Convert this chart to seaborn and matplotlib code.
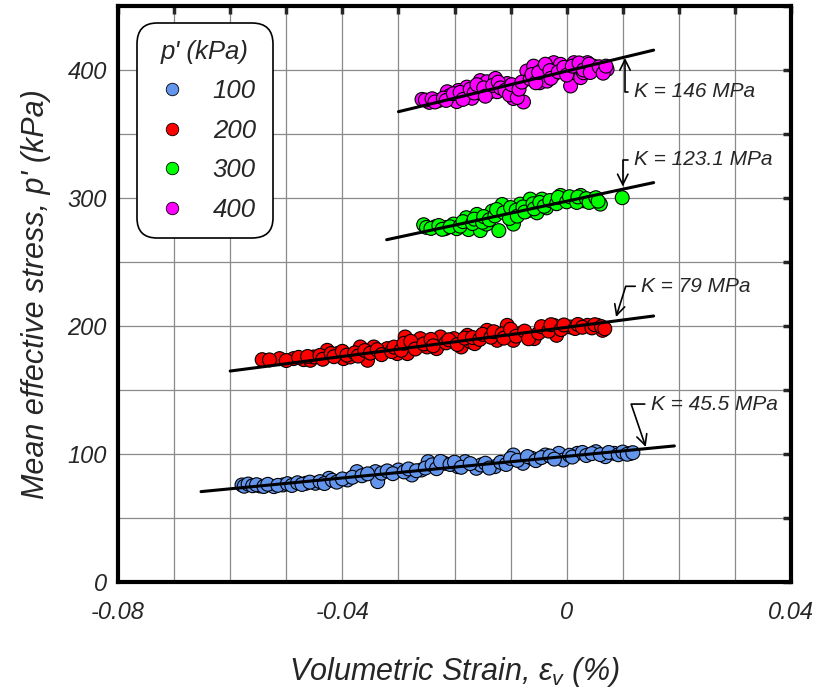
import numpy as np
import pandas as pd
import matplotlib
matplotlib.use("Agg")
import matplotlib.pyplot as plt
import seaborn as sns

# --- data ---
levels = ["100", "200", "300", "400"]
colors = ["#6495ED", "#FF0000", "#00FF00", "#FF00FF"]

strain_100 = [-0.0579, -0.0547, -0.0522, -0.0506, -0.0465, -0.0448, -0.0424, -0.0391, -0.0374,
              -0.0341, -0.0337, -0.0300, -0.0276, -0.0259, -0.0247, -0.0218, -0.0194, -0.0181,
              -0.0161, -0.0153, -0.0128, -0.0095, -0.0078, -0.0062, -0.0038, -0.0014, -0.0006,
              0.0019, 0.0052, 0.0069, 0.0085, 0.0114,
              -0.0575, -0.0568, -0.0560, -0.0553, -0.0540, -0.0533, -0.0515, -0.0498, -0.0490,
              -0.0480, -0.0472, -0.0458, -0.0440, -0.0432, -0.0418, -0.0410, -0.0400, -0.0382,
              -0.0365, -0.0355, -0.0330, -0.0320, -0.0310, -0.0290, -0.0282, -0.0268, -0.0252,
              -0.0240, -0.0232, -0.0225, -0.0208, -0.0200, -0.0188, -0.0172, -0.0145, -0.0138,
              -0.0118, -0.0108, -0.0100, -0.0088, -0.0070, -0.0055, -0.0045, -0.0030, -0.0022,
              0.0005, 0.0010, 0.0028, 0.0035, 0.0045, 0.0060, 0.0075, 0.0092, 0.0100,
              0.0108, 0.0118]
stress_100 = [75.8, 75.0, 74.5, 75.8, 77.1, 77.1, 81.0, 79.7, 86.2,
              86.2, 78.4, 87.5, 83.6, 87.5, 94.0, 92.7, 90.1, 94.0,
              88.8, 91.4, 90.1, 99.2, 92.7, 96.6, 99.2, 100.5, 95.3,
              100.5, 101.8, 97.9, 100.5, 100.5,
              74.8, 76.5, 75.2, 76.0, 74.6, 76.3, 75.5, 76.8, 75.4,
              77.5, 76.2, 78.0, 78.4, 76.9, 79.5, 78.0, 80.5, 81.8,
              83.0, 84.5, 85.0, 86.8, 84.6, 86.0, 88.3, 86.9, 89.0,
              91.5, 88.5, 94.2, 91.8, 93.6, 89.6, 92.5, 92.8, 89.0,
              93.5, 91.8, 96.5, 95.0, 98.0, 94.8, 97.2, 98.4, 96.0,
              99.0, 97.6, 101.2, 98.8, 100.3, 99.5, 101.2, 99.4, 101.5,
              99.8, 101.0]

strain_200 = [-0.0543, -0.0512, -0.0487, -0.0469, -0.0457, -0.0451, -0.0427, -0.0409, -0.0398,
              -0.0386, -0.0368, -0.0355, -0.0344, -0.0320, -0.0302, -0.0288, -0.0284, -0.0261,
              -0.0249, -0.0232, -0.0225, -0.0201, -0.0188, -0.0177, -0.0171, -0.0164, -0.0142,
              -0.0124, -0.0106, -0.0095, -0.0082, -0.0058, -0.0041, -0.0023, -0.0018, 0.0007,
              0.0037, 0.0055, 0.0064,
              -0.0530, -0.0500, -0.0478, -0.0462, -0.0440, -0.0435, -0.0420, -0.0415, -0.0400,
              -0.0392, -0.0378, -0.0372, -0.0360, -0.0350, -0.0338, -0.0330, -0.0312, -0.0308,
              -0.0295, -0.0290, -0.0278, -0.0270, -0.0255, -0.0242, -0.0238, -0.0215, -0.0210,
              -0.0195, -0.0182, -0.0168, -0.0155, -0.0150, -0.0135, -0.0130, -0.0115, -0.0112,
              -0.0100, -0.0090, -0.0075, -0.0068, -0.0050, -0.0045, -0.0032, -0.0028, -0.0010,
              -0.0005, 0.0015, 0.0020, 0.0028, 0.0045, 0.0050, 0.0062, 0.0068]
stress_200 = [173.7, 174.5, 174.5, 173.7, 173.2, 175.8, 181.0, 178.4, 174.5,
              175.8, 183.6, 173.2, 183.6, 182.3, 178.4, 191.4, 178.4, 190.1,
              183.6, 182.3, 191.4, 190.1, 183.6, 192.7, 187.5, 186.2, 196.6,
              188.8, 200.5, 188.8, 194.0, 190.1, 197.9, 200.5, 192.7, 199.2,
              200.5, 200.5, 196.6,
              173.5, 173.0, 175.5, 176.2, 177.0, 174.0, 178.5, 176.0, 180.2,
              177.2, 179.0, 176.5, 180.8, 178.8, 181.5, 177.6, 180.0, 183.5,
              181.0, 186.5, 188.0, 182.0, 186.0, 189.5, 184.5, 186.8, 189.2,
              185.5, 190.5, 191.0, 189.5, 193.5, 191.2, 195.5, 193.8, 190.5,
              197.5, 192.0, 196.0, 190.0, 194.5, 199.5, 196.0, 201.0, 197.2,
              200.8, 198.0, 201.2, 199.0, 198.5, 201.0, 199.5, 197.8]

strain_300 = [-0.0255, -0.0234, -0.0217, -0.0214, -0.0202, -0.0196, -0.0179, -0.0175, -0.0160,
              -0.0154, -0.0143, -0.0133, -0.0121, -0.0115, -0.0106, -0.0095, -0.0083, -0.0071,
              -0.0065, -0.0053, -0.0044, -0.0036, -0.0023, -0.0011, -0.0005, 0.0013, 0.0025,
              0.0030, 0.0048, 0.0060, 0.0099,
              -0.0250, -0.0242, -0.0228, -0.0222, -0.0208, -0.0190, -0.0185, -0.0168, -0.0165,
              -0.0150, -0.0148, -0.0138, -0.0128, -0.0125, -0.0112, -0.0102, -0.0100, -0.0090,
              -0.0088, -0.0078, -0.0075, -0.0060, -0.0058, -0.0048, -0.0040, -0.0030, -0.0018,
              -0.0015, 0.0000, 0.0005, 0.0018, 0.0020, 0.0035, 0.0040, 0.0052, 0.0056]
stress_300 = [279.1, 277.6, 276.0, 277.0, 279.6, 276.0, 284.6, 275.3, 287.2,
              274.5, 279.6, 289.7, 274.5, 294.9, 287.4, 279.6, 295.2, 289.7,
              299.1, 288.4, 299.1, 292.3, 297.8, 302.0, 299.1, 299.1, 302.0,
              297.8, 299.0, 295.2, 300.2,
              277.0, 276.2, 278.5, 275.5, 277.5, 278.0, 281.5, 280.0, 283.5,
              281.0, 285.5, 283.0, 286.0, 291.0, 288.5, 284.0, 292.5, 290.5,
              285.8, 293.0, 289.0, 295.5, 291.5, 296.5, 293.5, 298.0, 295.5,
              300.5, 297.0, 301.0, 296.5, 300.8, 299.5, 296.5, 300.2, 297.5]

strain_400 = [-0.0258, -0.0245, -0.0229, -0.0213, -0.0208, -0.0196, -0.0193, -0.0183, -0.0178,
              -0.0178, -0.0169, -0.0154, -0.0154, -0.0142, -0.0136, -0.0127, -0.0124, -0.0106,
              -0.0097, -0.0095, -0.0091, -0.0077, -0.0071, -0.0059, -0.0048, -0.0044, -0.0041,
              -0.0035, -0.0023, -0.0023, -0.0011, 0.0007, 0.0013, 0.0019, 0.0025, 0.0030,
              0.0037, 0.0048, 0.0054, 0.0072,
              -0.0252, -0.0240, -0.0235, -0.0220, -0.0215, -0.0202, -0.0190, -0.0185, -0.0172,
              -0.0165, -0.0160, -0.0148, -0.0145, -0.0132, -0.0122, -0.0118, -0.0110, -0.0102,
              -0.0098, -0.0088, -0.0085, -0.0080, -0.0065, -0.0062, -0.0055, -0.0050, -0.0038,
              -0.0030, -0.0028, -0.0015, -0.0005, 0.0000, 0.0010, 0.0022, 0.0030, 0.0040,
              0.0042, 0.0058, 0.0065, 0.0070]
stress_400 = [377.0, 374.7, 376.0, 383.0, 380.0, 375.3, 384.0, 380.5, 386.6,
              379.0, 377.9, 391.7, 382.0, 390.8, 383.0, 393.4, 383.0, 389.4,
              385.5, 377.7, 381.5, 375.0, 399.2, 403.0, 390.0, 395.0, 401.7,
              391.3, 396.6, 405.7, 404.4, 387.5, 405.7, 401.7, 394.0, 397.8,
              405.7, 403.0, 400.4, 400.4,
              376.5, 377.5, 375.0, 378.0, 376.2, 381.5, 382.5, 377.0, 385.0,
              382.0, 388.5, 386.0, 379.5, 388.0, 390.5, 386.0, 384.0, 380.5,
              388.5, 378.5, 385.0, 390.5, 393.0, 396.5, 390.0, 398.0, 404.5,
              399.5, 393.5, 398.5, 402.0, 396.0, 403.0, 405.5, 400.0, 404.5,
              398.0, 402.5, 397.5, 403.0]

# fitted lines (end points)
fit_strain = [[-0.0652, 0.0192], [-0.0600, 0.0155], [-0.0321, 0.0155], [-0.0300, 0.0155]]
fit_stress = [[70.6, 106.3], [164.8, 207.8], [267.4, 312.0], [367.4, 415.5]]

k_labels = ["K = 45.5 MPa", "K = 79 MPa", "K = 123.1 MPa", "K = 146 MPa"]
k_text_xy = [(0.0150, 139.0), (0.0133, 231.0), (0.0120, 330.0), (0.0120, 382.8)]
k_tip_xy = [(0.0141, 105.5), (0.0088, 207.0), (0.0100, 309.0), (0.0104, 409.4)]
k_angleB = [108.8, 72.5, 270, 90]

xticks = [-0.08, -0.04, 0, 0.04]
xticklabels = ["-0.08", "-0.04", "0", "0.04"]
yticks = [0, 100, 200, 300, 400]

strains = [strain_100, strain_200, strain_300, strain_400]
stresses = [stress_100, stress_200, stress_300, stress_400]
df = pd.concat([pd.DataFrame({"strain": s, "stress": p, "level": lv})
                for s, p, lv in zip(strains, stresses, levels)], ignore_index=True)

# --- styling ---
sns.set_style("white")
plt.rcParams["font.family"] = ["Liberation Sans", "DejaVu Sans"]
plt.rcParams["font.style"] = "italic"
plt.rcParams["axes.unicode_minus"] = False
plt.rcParams["mathtext.fontset"] = "custom"
plt.rcParams["mathtext.it"] = "Liberation Sans:italic"
plt.rcParams["mathtext.rm"] = "Liberation Sans:italic"

fig, ax = plt.subplots(figsize=(8.22, 6.94), dpi=100)
fig.subplots_adjust(left=0.1436, right=0.9623, bottom=0.1614, top=0.9914)

for i in range(4):
    sns.lineplot(x=fit_strain[i], y=fit_stress[i], color="black", linewidth=2.2, ax=ax, zorder=3)

sns.scatterplot(data=df, x="strain", y="stress", hue="level", palette=colors,
                s=100, edgecolor="black", linewidth=0.8, ax=ax, zorder=2, legend=False)

ax.set_xlim(-0.08, 0.04)
ax.set_ylim(0, 450)
ax.set_xticks(xticks)
ax.set_xticklabels(xticklabels)
ax.set_yticks(yticks)
ax.set_xticks(np.arange(-0.08, 0.0401, 0.01), minor=True)
ax.set_yticks(np.arange(0, 451, 50), minor=True)
ax.grid(True, which="both", color="#8a8a8a", linewidth=0.9)
ax.set_axisbelow(True)
ax.tick_params(which="both", direction="in", top=True, right=True, length=6, width=2.5,
               labelsize=17)
ax.tick_params(axis="x", pad=14)
ax.tick_params(axis="y", pad=8)
for sp in ax.spines.values():
    sp.set_linewidth(3)
    sp.set_color("black")

ax.set_xlabel("Volumetric Strain, ε$_v$ (%)", fontsize=22, labelpad=22)
ax.set_ylabel("Mean effective stress, p' (kPa)", fontsize=22, labelpad=12)

# K annotations
for lab, txy, tip, angB in zip(k_labels, k_text_xy, k_tip_xy, k_angleB):
    ax.annotate(lab, xy=tip, xytext=txy, fontsize=15, ha="left", va="center",
                arrowprops=dict(arrowstyle="->,head_length=0.5,head_width=0.25", color="black",
                                lw=1.2, shrinkA=2, shrinkB=0, relpos=(0, 0.5),
                                connectionstyle=f"angle,angleA=180,angleB={angB},rad=0"))

# legend
handles = [plt.Line2D([], [], marker="o", linestyle="", markersize=9, markerfacecolor=c,
                      markeredgecolor="black", markeredgewidth=0.6) for c in colors]
leg = ax.legend(handles, levels, title="p' (kPa)", loc="upper left",
                bbox_to_anchor=(0.028, 0.970), borderaxespad=0, fontsize=18.5,
                title_fontsize=18.5, frameon=True, fancybox=True, edgecolor="black",
                framealpha=1, borderpad=0.65, handlelength=1.4, handletextpad=0.9,
                labelspacing=0.6)
leg.get_frame().set_linewidth(1.2)
leg.get_frame().set_boxstyle("round", pad=0, rounding_size=0.8)

fig.savefig("out.png", dpi=100)
